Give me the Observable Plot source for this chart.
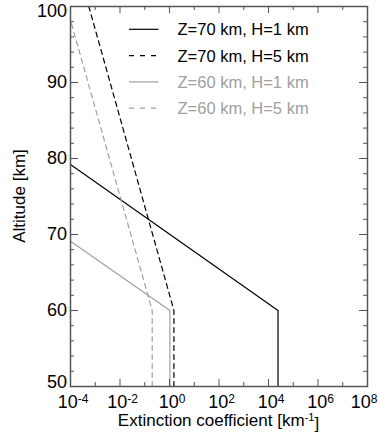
<!DOCTYPE html>
<html><head><meta charset="utf-8">
<script src="https://cdn.jsdelivr.net/npm/d3@7"></script>
<script src="https://cdn.jsdelivr.net/npm/@observablehq/plot@0.6"></script>
<style>html,body{margin:0;padding:0;background:#fff} svg{display:block}</style>
</head><body><div id="chart"></div>
<script>
// ---- data ----
const seriesNames  = ["Z=70 km, H=1 km", "Z=70 km, H=5 km", "Z=60 km, H=1 km", "Z=60 km, H=5 km"];
const seriesColors = ["#000000", "#000000", "#a0a0a0", "#a0a0a0"];
const seriesDashes = [null, "5,4", null, "5,4"];
// profile vertices: altitude [km] and extinction coefficient [km^-1]
const alt_Z70_H1 = [50, 60, 79.2];
const ext_Z70_H1 = [2.43e4, 2.43e4, 1e-4];
const alt_Z70_H5 = [50, 60, 100];
const ext_Z70_H5 = [1.51, 1.51, 5.5e-4];
const alt_Z60_H1 = [50, 60, 69.1];
const ext_Z60_H1 = [1.04, 1.04, 1e-4];
const alt_Z60_H5 = [50, 60, 98.2];
const ext_Z60_H5 = [0.20, 0.20, 1e-4];
const xMajorTicks = [1e-4, 1e-2, 1e0, 1e2, 1e4, 1e6, 1e8];
const xMinorTicks = [1e-3, 1e-1, 1e1, 1e3, 1e5, 1e7];
const yMajorTicks = [50, 60, 70, 80, 90, 100];
const yMinorTicks = [52, 54, 56, 58, 62, 64, 66, 68, 72, 74, 76, 78, 82, 84, 86, 88, 92, 94, 96, 98];
const xTitle = "Extinction coefficient [km";
const xTitleSup = "-1";
const yTitle = "Altitude [km]";

// ---- build ----
const profiles = [
  [alt_Z70_H1, ext_Z70_H1], [alt_Z70_H5, ext_Z70_H5],
  [alt_Z60_H1, ext_Z60_H1], [alt_Z60_H5, ext_Z60_H5]
].map(([alt, ext], i) => ({
  name: seriesNames[i], color: seriesColors[i], dash: seriesDashes[i],
  rows: alt.map((a, j) => ({alt: a, ext: ext[j]}))
}));

const W = 379, H = 432, mL = 70, mR = 12, mT = 6, mB = 46;
const iw = W - mL - mR, ih = H - mT - mB;
const axisColor = "#555";
const font = "'Liberation Sans', Arial, Helvetica, sans-serif";

const plot = Plot.plot({
  width: W, height: H,
  marginLeft: mL, marginRight: mR, marginTop: mT, marginBottom: mB,
  style: {fontFamily: font, background: "#fff", color: "#000"},
  x: {type: "log", domain: [1e-4, 1e8]},
  y: {domain: [50, 100]},
  marks: [
    ...profiles.map(p => Plot.line(p.rows, {
      x: "ext", y: "alt", stroke: p.color, strokeWidth: 1.2,
      strokeDasharray: p.dash, clip: true
    })),
    // inward ticks on all four sides
    Plot.tickX(xMajorTicks, {x: d => d, insetTop: ih - 7, stroke: axisColor}),
    Plot.tickX(xMajorTicks, {x: d => d, insetBottom: ih - 7, stroke: axisColor}),
    Plot.tickX(xMinorTicks, {x: d => d, insetTop: ih - 4, stroke: axisColor}),
    Plot.tickX(xMinorTicks, {x: d => d, insetBottom: ih - 4, stroke: axisColor}),
    Plot.tickY(yMajorTicks, {y: d => d, insetRight: iw - 8, stroke: axisColor}),
    Plot.tickY(yMajorTicks, {y: d => d, insetLeft: iw - 8, stroke: axisColor}),
    Plot.tickY(yMinorTicks, {y: d => d, insetRight: iw - 4, stroke: axisColor}),
    Plot.tickY(yMinorTicks, {y: d => d, insetLeft: iw - 4, stroke: axisColor}),
    Plot.frame({stroke: axisColor, strokeWidth: 1.5}),
    Plot.axisX(xMajorTicks, {
      tickSize: 0, tickPadding: 9, fontSize: 18, label: null, dx: 2.5,
      tickFormat: d => "10^" + Math.round(Math.log10(d))
    }),
    Plot.axisY(yMajorTicks, {tickSize: 0, tickPadding: 3.5, fontSize: 18, label: null})
  ]
});

document.getElementById("chart").appendChild(plot);
const svg = d3.select(plot);

// superscript exponents on x tick labels
svg.selectAll('[aria-label="x-axis tick label"] text').each(function () {
  const t = d3.select(this);
  const s = t.text();
  if (!s.includes("^")) return;
  const [base, exp] = s.split("^");
  t.text(base);
  t.append("tspan").attr("dy", "-0.42em").attr("font-size", "12px").text(exp);
  // last label is pushed left so it stays within the picture
  if (exp === "8") t.attr("transform", (t.attr("transform") || "") + " translate(-6,0)");
});

// keep the end labels of the altitude axis inside the frame, as in the reference
svg.selectAll('[aria-label="y-axis tick label"] text').each(function () {
  const t = d3.select(this);
  const s = t.text();
  if (s === "100") t.attr("transform", (t.attr("transform") || "") + " translate(0,5)");
  if (s === "50") t.attr("transform", (t.attr("transform") || "") + " translate(0,-4)");
});

// axis titles
const xt = svg.append("text")
  .attr("x", mL + iw / 2).attr("y", 426)
  .attr("text-anchor", "middle").attr("font-size", 17).attr("font-family", font).attr("fill", "#000")
  .text(xTitle);
xt.append("tspan").attr("dy", "-0.45em").attr("font-size", "11px").text(xTitleSup);
xt.append("tspan").attr("dy", "0.45em").text("]");

svg.append("text")
  .attr("transform", `translate(25,${mT + ih / 2}) rotate(-90)`)
  .attr("text-anchor", "middle").attr("font-size", 17).attr("font-family", font).attr("fill", "#000")
  .text(yTitle);

// legend
const legend = svg.append("g").attr("text-anchor", "start");
profiles.forEach((p, i) => {
  const y = 29.3 + i * 26.3;
  legend.append("line")
    .attr("x1", 129).attr("x2", 158.5).attr("y1", y).attr("y2", y)
    .attr("stroke", p.color).attr("stroke-width", 1.2)
    .attr("stroke-dasharray", p.dash ? "5,6" : null);
  legend.append("text")
    .attr("x", 177.5).attr("y", y + 6)
    .attr("text-anchor", "start")
    .attr("font-size", 16.5).attr("font-family", font).attr("fill", p.color)
    .text(p.name);
});
</script>
</body></html>
